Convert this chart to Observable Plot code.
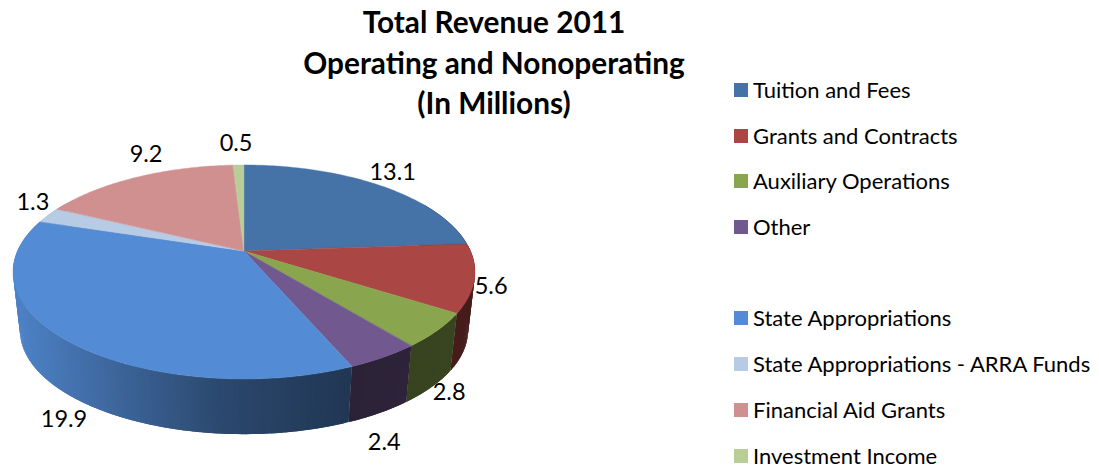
<!DOCTYPE html>
<html><head><meta charset="utf-8">
<script src="https://cdn.jsdelivr.net/npm/d3@7"></script>
<script src="https://cdn.jsdelivr.net/npm/@observablehq/plot@0.6"></script>
<style>
html,body{margin:0;padding:0;background:#fff;overflow:hidden}
#wrap{position:relative;width:1099px;height:467px;font-family:Lato,sans-serif;color:#000}
#wrap svg{position:absolute;left:0;top:0}
h1{position:absolute;left:244px;width:500px;top:2px;margin:0;text-align:center;font-size:29.8px;line-height:40.5px;font-weight:700}
#legend{position:absolute;left:734px;top:81px;display:flex;flex-direction:column;gap:27.7px;font-size:22px;line-height:18px}
.row{height:18px;display:flex;align-items:center;white-space:nowrap}
.sw{width:14px;height:14px;margin-right:5px;flex:none}
</style></head><body>
<div id="wrap"><h1 id="title"></h1><div id="legend"></div></div>
<script>
const titleLines = ["Total Revenue 2011", "Operating and Nonoperating", "(In Millions)"];
const categories = ["Tuition and Fees","Grants and Contracts","Auxiliary Operations","Other","State Appropriations","State Appropriations - ARRA Funds","Financial Aid Grants","Investment Income"];
const values = [13.1,5.6,2.8,2.4,19.9,1.3,9.2,0.5];
const topColors = ["#4572a7","#aa4643","#89a54e","#71588f","#538bd4","#b7cce4","#d09090","#b9cd96"];
const labelDx = [13,16,11,0,-2,-16,9,-3];
const labelDy = [-13,8,62,85,79,-13,-23,-22];

// Perspective model of the tilted disc
const W = 720, H = 467, RX = 226.5, RY = 102.9, CX = 244, CY = 251, K = 0.196;
const BASE_SCALE = 0.97, BASE_DROP = 59 / RY;
const proj = (deg, floor) => {
  const a = deg * Math.PI / 180, u = Math.sin(a), v = Math.cos(a), s = 1 / (1 + K * v);
  const f = floor ? BASE_SCALE : 1;
  return {x: u * s * f, y: v * s * f - (floor ? BASE_DROP : 0)};
};

const total = d3.sum(values);
const cum = d3.cumsum(values);
const slices = categories.map((name, i) => ({
  name, i, value: values[i], color: topColors[i],
  a0: (i ? cum[i - 1] : 0) / total * 360,
  a1: cum[i] / total * 360
}));

// Top faces
const topPts = slices.flatMap(s => {
  const n = Math.max(2, Math.ceil(s.a1 - s.a0) + 1);
  return d3.range(n).map(j => {
    const p = proj(s.a0 + (s.a1 - s.a0) * j / (n - 1), false);
    return {name: s.name, color: s.color, x: p.x, y: p.y};
  });
});

// Side wall, shaded from light at the left to dark at the right
const shade = d3.scaleLinear().domain([-1, -0.1, 0.5, 1]).range([0.93, 0.52, 0.39, 0.42]).clamp(true);
const wall = slices.flatMap(s => {
  const pts = [];
  const lo = Math.max(s.a0, 60), hi = Math.min(s.a1, 300);
  for (let d = lo; d < hi; d += 0.75) {
    const e = Math.min(d + 1.6, hi);
    const tA = proj(d, false), bA = proj(d, true), tB = proj(e, false), bB = proj(e, true);
    const c = d3.rgb(s.color), k = shade(tA.x);
    const fill = d3.rgb(c.r * k, c.g * k, c.b * k).formatHex();
    const id = s.i + "-" + d;
    pts.push({id, fill, x1: tA.x, y1: tA.y, x2: bA.x, y2: bA.y});
    pts.push({id, fill, x1: tB.x, y1: tB.y, x2: bB.x, y2: bB.y});
  }
  return pts;
});

const labels = slices.map(s => {
  const p = proj((s.a0 + s.a1) / 2, false);
  return {...p, text: String(s.value), dx: labelDx[s.i], dy: labelDy[s.i]};
});

const plot = Plot.plot({
  width: W, height: H, margin: 0,
  x: {domain: [-CX / RX, (W - CX) / RX], range: [0, W], axis: null},
  y: {domain: [CY / RY, (CY - H) / RY], range: [0, H], axis: null},
  color: {type: "identity"},
  marks: [
    Plot.area(wall, {x1: "x1", y1: "y1", x2: "x2", y2: "y2", z: "id", fill: "fill"}),
    ...slices.map(s => Plot.area(topPts.filter(p => p.name === s.name), {
      x1: () => 0, y1: () => 0, x2: "x", y2: "y", fill: "color", stroke: "color", strokeWidth: 0.4
    })),
    ...labels.map(l => Plot.text([l], {
      x: "x", y: "y", text: "text", dx: l.dx, dy: l.dy,
      fontSize: 23.5, fontFamily: "Lato, sans-serif", fill: "#000"
    }))
  ]
});
document.getElementById("wrap").appendChild(plot);

document.getElementById("title").innerHTML = titleLines.join("<br>");
const leg = document.getElementById("legend");
categories.forEach((c, i) => {
  if (i === 4) { const sp = document.createElement("div"); sp.className = "row"; leg.appendChild(sp); }
  const r = document.createElement("div"); r.className = "row";
  const sw = document.createElement("span"); sw.className = "sw"; sw.style.background = topColors[i];
  const t = document.createElement("span"); t.textContent = c;
  r.append(sw, t); leg.appendChild(r);
});
</script>
</body></html>
